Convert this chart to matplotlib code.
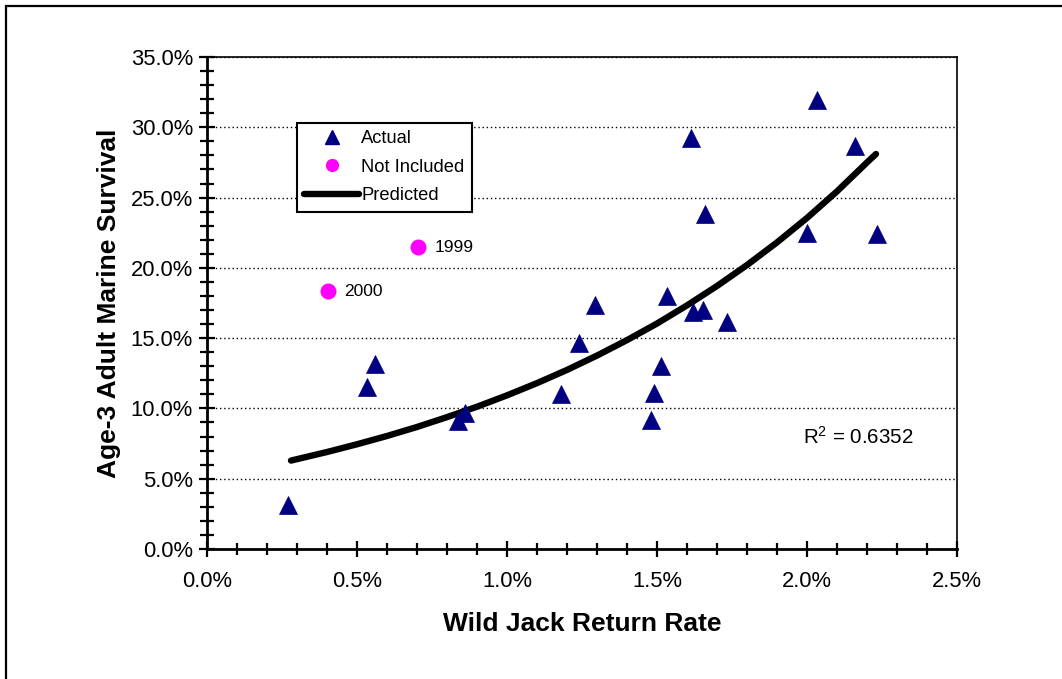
#!/usr/bin/env python3
"""Age-3 adult marine survival vs wild jack return rate."""
import numpy as np
from matplotlib import pyplot as plt
from matplotlib.lines import Line2D
from matplotlib.patches import Rectangle
from matplotlib.ticker import MultipleLocator, FuncFormatter

plt.rcParams["font.family"] = ["Liberation Sans", "DejaVu Sans"]
plt.rcParams["mathtext.fontset"] = "custom"
plt.rcParams["mathtext.rm"] = "Liberation Sans"
plt.rcParams["mathtext.it"] = "Liberation Sans"

# actual points (jack return %, survival %)
actual_jack = [0.271, 0.532, 0.560, 0.838, 0.860, 1.179, 1.240, 1.293, 1.479, 1.490,
               1.512, 1.532, 1.612, 1.619, 1.652, 1.659, 1.732, 1.999, 2.032, 2.159, 2.232]
actual_surv = [3.14, 11.55, 13.14, 9.10, 9.69, 11.00, 14.69, 17.38, 9.17, 11.12,
               13.00, 17.98, 29.26, 16.83, 17.02, 23.81, 16.12, 22.50, 31.95, 28.69, 22.38]

# years left out of the fit
excluded_jack = [0.702, 0.402]
excluded_surv = [21.48, 18.34]
excluded_years = ["1999", "2000"]

# predicted curve
pred_jack = [0.28, 0.40, 0.50, 0.60, 0.70, 0.80, 0.90, 1.00, 1.10, 1.20, 1.30, 1.40,
             1.50, 1.60, 1.70, 1.80, 1.90, 2.00, 2.10, 2.20, 2.23]
pred_surv = [6.29, 6.90, 7.45, 8.04, 8.68, 9.38, 10.12, 10.93, 11.80, 12.74, 13.76, 14.86,
             16.04, 17.33, 18.71, 20.20, 21.81, 23.55, 25.44, 27.50, 28.10]

r2_text = "R$^2$ = 0.6352"

fig = plt.figure(figsize=(10.62, 6.79), dpi=100)
ax = fig.add_axes([207 / 1062, 130 / 679, 750 / 1062, 492 / 679])

# outer frame (cut off on the right and bottom)
fig.patches.append(Rectangle((6 / 1062, -1), 2, 1 + (679 - 5) / 679 - 0.001,
                             transform=fig.transFigure, fill=False,
                             edgecolor="black", linewidth=1.6, clip_on=False))

ax.plot(pred_jack, pred_surv, color="black", linewidth=4.6,
        solid_capstyle="round", solid_joinstyle="round", zorder=3)
ax.plot(actual_jack, actual_surv, linestyle="none", marker="^", markersize=12.5,
        color="#000080", markeredgewidth=0.5, zorder=4)
ax.plot(excluded_jack, excluded_surv, linestyle="none", marker="o", markersize=11.5,
        color="#FF00FF", markeredgewidth=0, zorder=4)
for x, y, yr in zip(excluded_jack, excluded_surv, excluded_years):
    ax.annotate(yr, (x, y), xytext=(12, 0), textcoords="offset points",
                va="center", ha="left", fontsize=12.5)

ax.text(1.987, 8.0, r2_text, fontsize=14.8, ha="left", va="center")

ax.set_xlim(0, 2.5)
ax.set_ylim(0, 35)
ax.xaxis.set_major_locator(MultipleLocator(0.5))
ax.xaxis.set_minor_locator(MultipleLocator(0.1))
ax.yaxis.set_major_locator(MultipleLocator(5))
ax.yaxis.set_minor_locator(MultipleLocator(1))
ax.xaxis.set_major_formatter(FuncFormatter(lambda v, p: f"{v:.1f}%"))
ax.yaxis.set_major_formatter(FuncFormatter(lambda v, p: f"{v:.1f}%"))
ax.tick_params(axis="both", which="major", direction="inout", length=12, width=1.6,
               labelsize=15.8)
ax.tick_params(axis="y", which="major", pad=4)
ax.tick_params(axis="y", which="minor", direction="inout", length=10, width=1.6)
ax.tick_params(axis="x", which="minor", direction="inout", length=8, width=1.6)
ax.tick_params(axis="x", which="major", pad=10)

ax.grid(axis="y", which="major", linestyle=(0, (1, 2)), color="black", linewidth=1.0)
ax.set_axisbelow(True)
for side in ["left", "bottom"]:
    ax.spines[side].set_linewidth(2.0)
for side in ["top", "right"]:
    ax.spines[side].set_linewidth(1.2)

ax.set_xlabel("Wild Jack Return Rate", fontsize=19, fontweight="bold", labelpad=14)
ax.set_ylabel("Age-3 Adult Marine Survival", fontsize=19, fontweight="bold", labelpad=7)

handles = [
    Line2D([], [], linestyle="none", marker="^", markersize=10, color="#000080"),
    Line2D([], [], linestyle="none", marker="o", markersize=8.5, color="#FF00FF"),
    Line2D([], [], color="black", linewidth=4.6, solid_capstyle="round"),
]
leg = ax.legend(handles, ["Actual", "Not Included", "Predicted"], loc="upper left",
                bbox_to_anchor=(0.1196, 0.8665), borderaxespad=0, fontsize=13.2,
                frameon=True, fancybox=False, framealpha=1, edgecolor="black",
                handlelength=3.0, handletextpad=0.1, labelspacing=0.62,
                borderpad=0.42)
leg.get_frame().set_linewidth(1.5)

fig.savefig("out.png", dpi=100)
